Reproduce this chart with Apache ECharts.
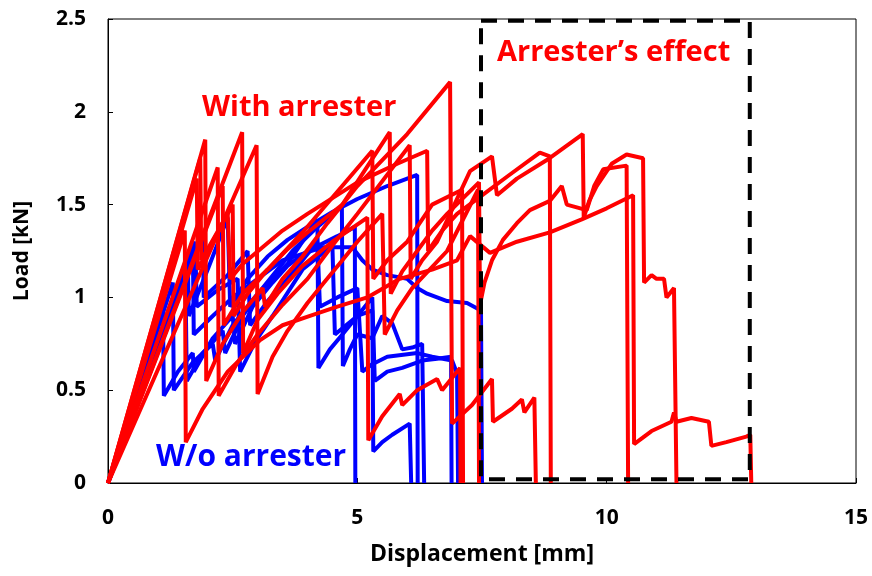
<!DOCTYPE html>
<html>
<head>
<meta charset="utf-8">
<script src="https://cdn.jsdelivr.net/npm/echarts@6/dist/echarts.min.js"></script>
<style>
  html, body { margin: 0; padding: 0; background: #fff; }
  #chart { width: 872px; height: 576px; }
</style>
</head>
<body>
<div id="chart"></div>
<script>
// load-displacement curves [displacement mm, load kN]
const blue1 = [[0,0],[1.1,0.97],[1.12,0.47],[1.4,0.6],[1.7,0.7],[1.72,0.6],[2.1,0.78],[2.5,0.9],[2.55,0.75],[2.9,0.95],[3.3,1.08],[3.6,1.17],[4.0,1.25],[4.6,1.33],[4.95,1.38],[4.96,0]];
const blue2 = [[0,0],[1.3,1.08],[1.32,0.5],[1.7,0.65],[2.1,0.75],[2.15,0.66],[2.5,0.85],[3.0,1.02],[3.6,1.18],[3.9,1.3],[4.2,1.42],[4.22,0.62],[4.45,0.72],[4.7,0.8],[5.0,0.9],[5.3,0.93],[5.32,0.17],[5.5,0.22],[5.7,0.26],[6.05,0.32],[6.08,0]];
const blue3 = [[0,0],[1.6,1.22],[1.62,0.9],[2.0,1.15],[2.4,1.43],[2.45,0.95],[2.8,1.1],[3.2,1.22],[3.6,1.31],[4.0,1.38],[4.5,1.46],[5.0,1.53],[5.6,1.6],[6.2,1.66],[6.21,0]];
const blue4 = [[0,0],[1.55,1.18],[1.58,0.55],[1.9,0.7],[2.3,0.82],[2.35,0.7],[2.7,0.9],[3.1,1.05],[3.7,1.25],[4.2,1.38],[4.69,1.49],[4.71,0.63],[4.85,0.72],[5.0,0.8],[5.3,0.78],[5.5,0.9],[5.7,0.86],[5.9,0.72],[6.1,0.73],[6.3,0.75],[6.34,0]];
const blue5 = [[0,0],[1.75,1.3],[1.78,0.95],[2.2,1.04],[2.6,1.1],[2.65,0.6],[2.95,0.76],[3.3,0.9],[3.9,1.15],[4.5,1.28],[4.55,0.8],[5.0,0.9],[5.3,1.0],[5.35,0.55],[5.6,0.6],[5.9,0.62],[6.3,0.66],[6.6,0.67],[6.88,0.68],[6.89,0]];
const blue6 = [[0,0],[1.9,1.35],[1.92,1.0],[2.4,1.12],[2.8,1.25],[2.85,0.85],[3.2,0.98],[3.6,1.1],[4.2,1.3],[4.25,0.95],[4.6,1.0],[5.0,1.05],[5.1,0.6],[5.3,0.64],[5.6,0.68],[6.2,0.7],[6.5,0.68],[6.9,0.66],[7.0,0.59],[7.02,0]];
const blue7 = [[0,0],[1.7,1.3],[1.72,0.8],[2.1,0.9],[2.5,1.0],[3.0,1.1],[3.5,1.2],[4.3,1.27],[4.9,1.27],[5.1,1.2],[5.3,1.15],[5.6,1.12],[6.0,1.1],[6.2,1.05],[6.4,1.02],[6.8,0.98],[7.2,0.97],[7.48,0.93],[7.5,0]];

const red1 = [[0,0],[1.95,1.85],[1.97,0.55],[2.3,0.75],[2.7,0.92],[3.1,1.05],[3.15,0.95],[3.5,1.1],[3.9,1.22],[4.4,1.4],[5.0,1.6],[6.0,1.88],[6.86,2.16],[6.9,0.32],[7.3,0.42],[7.7,0.56],[7.72,0.33],[8.1,0.4],[8.3,0.45],[8.35,0.38],[8.55,0.46],[8.58,0]];
const red2 = [[0,0],[2.69,1.89],[2.71,0.7],[3.0,0.88],[3.4,1.02],[3.9,1.17],[4.5,1.3],[5.2,1.43],[5.22,0.23],[5.5,0.36],[5.85,0.48],[5.9,0.42],[6.2,0.5],[6.6,0.56],[6.7,0.5],[7.06,0.62],[7.07,0]];
const red3 = [[0,0],[1.78,1.64],[1.8,1.15],[2.5,1.5],[2.52,0.9],[2.8,1.02],[3.2,1.15],[3.6,1.26],[4.0,1.35],[4.7,1.5],[5.65,1.89],[5.67,1.02],[5.9,1.14],[6.2,1.25],[6.5,1.36],[6.8,1.45],[7.44,1.62],[7.46,0.96],[7.55,1.08],[7.7,1.2],[7.92,1.31],[8.2,1.4],[8.46,1.47],[8.86,1.52],[9.1,1.6],[9.2,1.5],[9.6,1.47],[9.75,1.6],[9.93,1.69],[10.4,1.71],[10.43,0]];
const red4 = [[0,0],[2.2,1.7],[2.22,0.47],[2.6,0.65],[3.0,0.8],[3.5,0.96],[4.0,1.1],[4.5,1.28],[5.0,1.45],[6.05,1.82],[6.07,1.1],[6.3,1.2],[6.6,1.3],[7.26,1.68],[7.7,1.76],[7.8,1.55],[8.2,1.64],[8.8,1.74],[9.52,1.88],[9.54,1.43],[9.65,1.52],[9.8,1.6],[10.1,1.72],[10.4,1.77],[10.73,1.75],[10.75,1.08],[10.9,1.12],[11.0,1.1],[11.15,1.1],[11.2,1.0],[11.35,1.05],[11.4,0]];
const red5 = [[0,0],[1.85,1.75],[1.87,1.2],[2.4,1.45],[2.45,1.1],[2.7,1.18],[3.1,1.27],[3.5,1.36],[4.0,1.45],[5.0,1.62],[5.8,1.72],[6.4,1.79],[6.42,1.25],[6.7,1.36],[7.0,1.45],[7.5,1.55],[8.0,1.65],[8.66,1.78],[8.86,1.76],[8.88,0]];
const red6 = [[0,0],[1.54,1.36],[1.56,0.22],[1.9,0.4],[2.4,0.6],[3.05,0.77],[3.5,0.85],[4.05,0.9],[4.6,0.95],[5.2,1.0],[5.85,1.1],[6.5,1.15],[7.0,1.2],[7.26,1.33],[7.66,1.24],[8.2,1.3],[8.86,1.35],[9.5,1.42],[10.0,1.48],[10.53,1.55],[10.55,0.21],[10.9,0.28],[11.3,0.33],[11.35,0.38],[11.4,0.33],[11.7,0.35],[12.05,0.33],[12.1,0.2],[12.4,0.22],[12.8,0.25],[12.88,0.26],[12.9,0]];
const red7 = [[0,0],[2.3,1.6],[2.32,0.85],[2.7,1.02],[3.2,1.15],[3.9,1.35],[5.3,1.79],[5.32,1.1],[5.6,1.2],[6.0,1.3],[6.5,1.5],[7.1,1.58],[7.12,0]];
const red8 = [[0,0],[2.98,1.82],[3.0,0.48],[3.3,0.68],[3.6,0.82],[4.0,0.97],[4.3,1.07],[4.7,1.2],[5.0,1.3],[5.5,1.45],[5.55,0.8],[5.8,0.93],[6.1,1.05],[6.8,1.25],[7.42,1.58],[7.44,0]];

const blueCurves = [blue1, blue2, blue3, blue4, blue5, blue6, blue7];
const redCurves = [red1, red2, red3, red4, red5, red6, red7, red8];

// dashed "arrester's effect" region
const effectBox = [[7.48, 2.49], [12.87, 2.49], [12.87, 0.02], [7.48, 0.02], [7.48, 2.49]];

const xTicks = { min: 0, max: 15, interval: 5 };
const yTicks = { min: 0, max: 2.5, interval: 0.5 };

const chart = echarts.init(document.getElementById('chart'));
const font = 'Open Sans';

const curve = (data, color) => ({
  type: 'line',
  data: data,
  showSymbol: false,
  symbol: 'none',
  animation: false,
  lineStyle: { color: color, width: 4 },
  z: color === '#ff0000' ? 3 : 2
});

const series = [
  ...blueCurves.map(d => curve(d, '#0000ff')),
  ...redCurves.map(d => curve(d, '#ff0000')),
  {
    type: 'line',
    data: effectBox,
    symbol: 'none',
    animation: false,
    lineStyle: { color: '#000', width: 4, type: [16, 11] },
    z: 4
  }
];

chart.setOption({
  backgroundColor: '#fff',
  animation: false,
  grid: { left: 108, right: 16, top: 19, bottom: 93, show: true, borderColor: '#000', borderWidth: 1 },
  xAxis: {
    type: 'value',
    min: xTicks.min, max: xTicks.max, interval: xTicks.interval,
    name: 'Displacement [mm]',
    nameLocation: 'middle',
    nameGap: 60,
    nameTextStyle: { fontFamily: font, fontWeight: 'bold', fontSize: 23, color: '#000' },
    axisLine: { lineStyle: { color: '#000', width: 1 } },
    axisTick: { inside: true, length: 5, lineStyle: { color: '#000' } },
    axisLabel: { fontFamily: font, fontWeight: 'bold', fontSize: 21, color: '#000', margin: 25 },
    splitLine: { show: false }
  },
  yAxis: {
    type: 'value',
    min: yTicks.min, max: yTicks.max, interval: yTicks.interval,
    name: 'Load [kN]',
    nameLocation: 'middle',
    nameGap: 75,
    nameTextStyle: { fontFamily: font, fontWeight: 'bold', fontSize: 21, color: '#000' },
    axisLine: { show: true, lineStyle: { color: '#000', width: 1 } },
    axisTick: { show: true, inside: true, length: 5, lineStyle: { color: '#000' } },
    axisLabel: { fontFamily: font, fontWeight: 'bold', fontSize: 21, color: '#000', margin: 22 },
    splitLine: { show: false }
  },
  graphic: [
    { type: 'text', left: 202, top: 93, z: 10, style: { text: 'With arrester', fill: '#ff0000', font: 'bold 29px "Open Sans"' } },
    { type: 'text', left: 156, top: 442, z: 10, style: { text: 'W/o arrester', fill: '#0000ff', font: 'bold 30px "Open Sans"' } },
    { type: 'text', left: 497, top: 38, z: 10, style: { text: 'Arrester\u2019s effect', fill: '#ff0000', font: 'bold 29px "Open Sans"' } }
  ],
  series: series
});
</script>
</body>
</html>
